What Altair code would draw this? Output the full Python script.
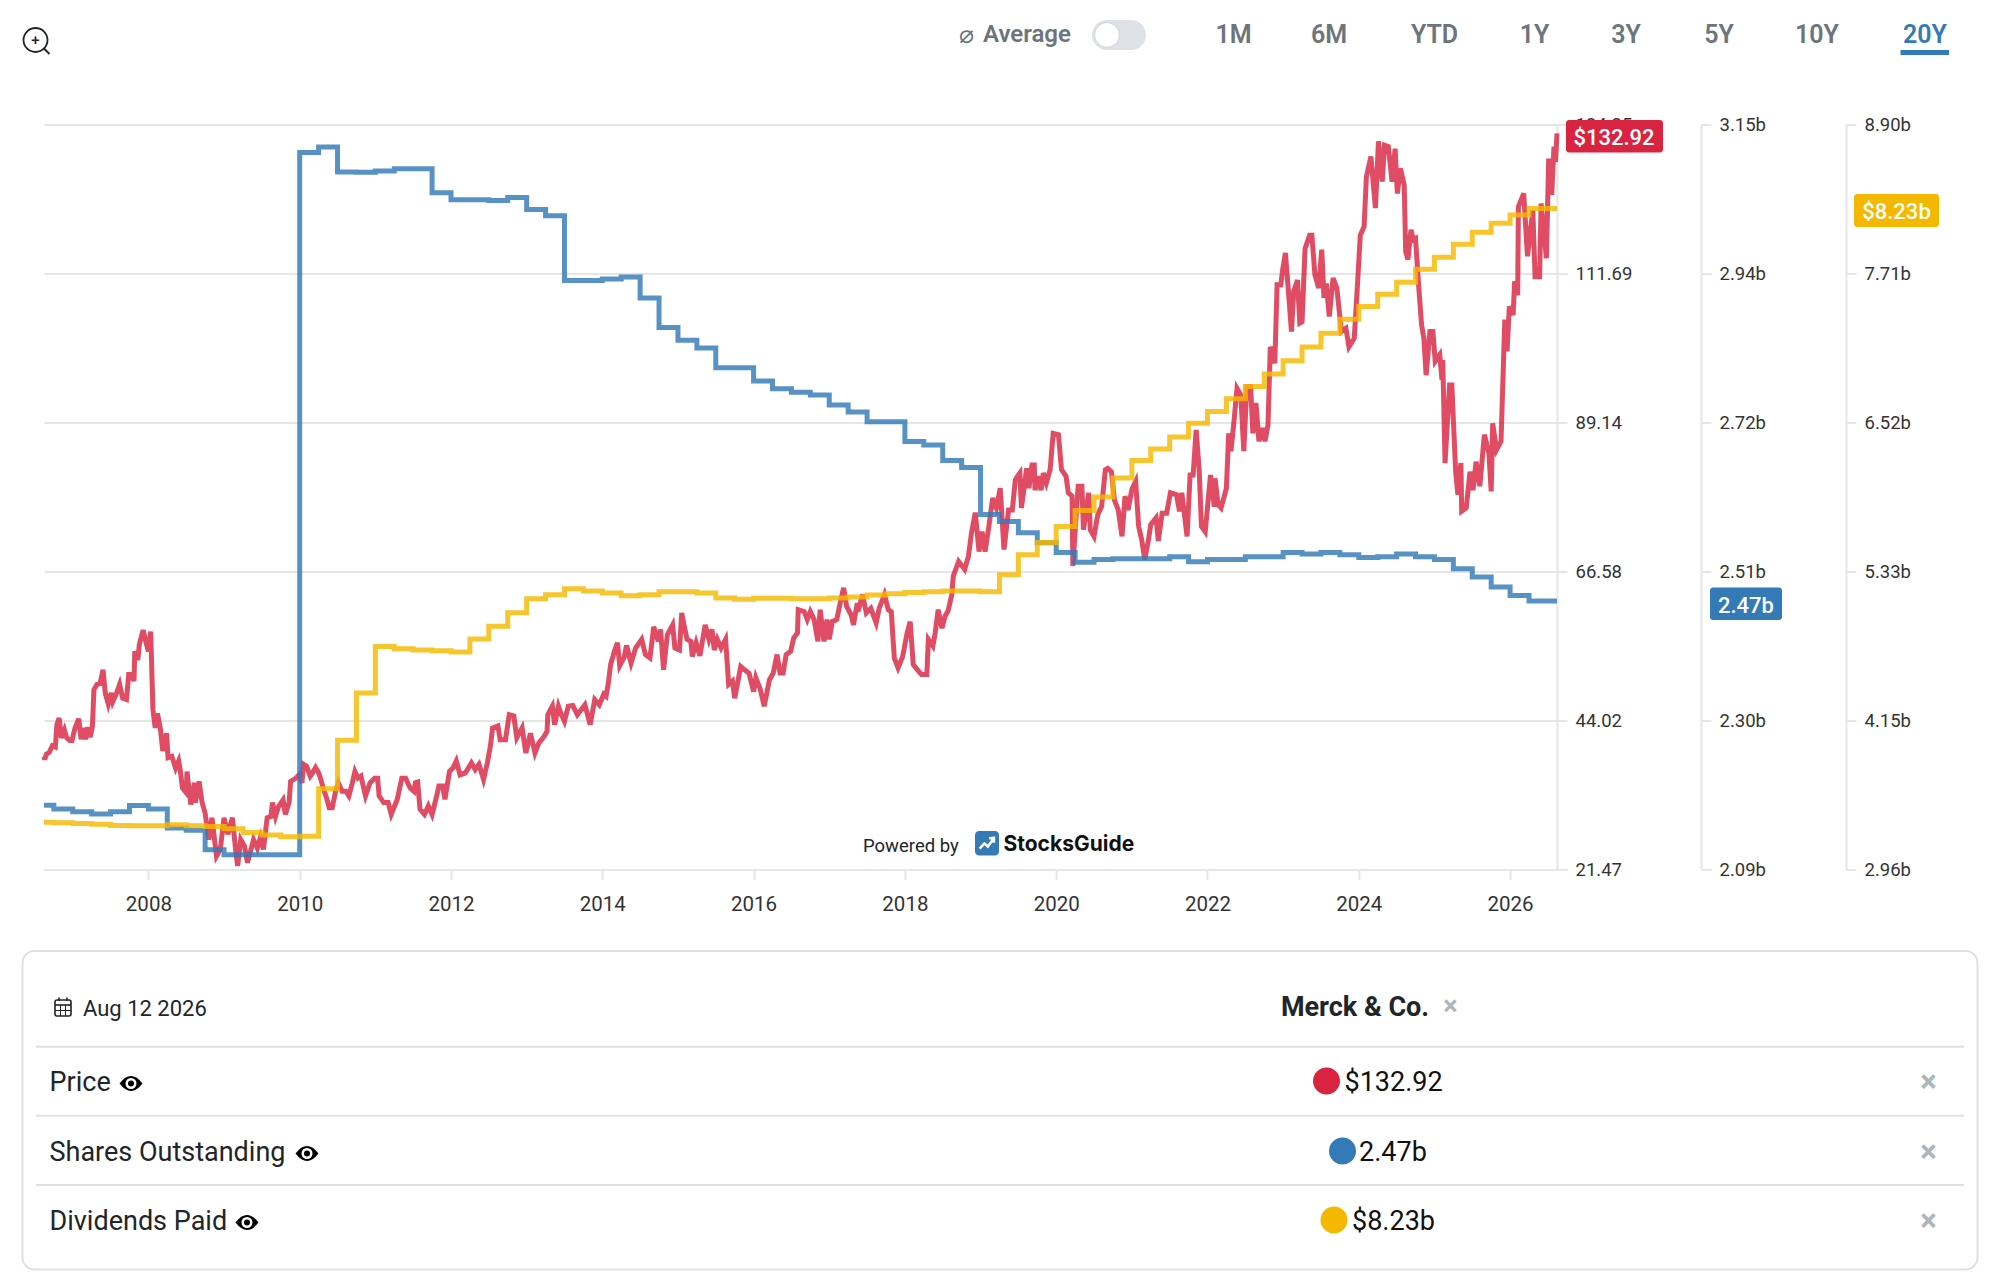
import altair as alt
import pandas as pd

# ---------- data ----------
price_years = [
 2006.62,2006.63,2006.65,2006.69,2006.73,2006.77,2006.79,2006.82,2006.85,2006.89,2006.92,2006.96,2006.99,2007.03,2007.08,2007.11,2007.14,2007.17,2007.20,2007.23,2007.26,2007.28,2007.32,2007.36,2007.40,2007.43,2007.47,2007.51,2007.53,2007.58,2007.62,2007.66,2007.71,2007.74,2007.77,2007.81,2007.82,2007.86,2007.88,2007.93,2007.97,2008.00,2008.03,2008.06,2008.09,2008.12,2008.16,2008.19,2008.24,2008.26,2008.31,2008.36,2008.40,2008.42,2008.45,2008.50,2008.51,2008.56,2008.61,2008.62,2008.67,2008.71,2008.75,2008.80,2008.84,2008.90,2008.95,2009.00,2009.05,2009.11,2009.16,2009.18,2009.22,2009.27,2009.31,2009.39,2009.44,2009.48,2009.52,2009.57,2009.62,2009.64,2009.68,2009.72,2009.78,2009.81,2009.86,2009.88,2009.95,2009.99,2010.03,
 2010.05,2010.09,2010.14,2010.17,2010.21,2010.25,2010.28,2010.31,2010.36,2010.39,2010.43,2010.48,2010.51,2010.56,2010.61,2010.65,2010.69,2010.73,2010.77,2010.81,2010.87,2010.93,2010.99,2011.03,2011.05,2011.11,2011.17,2011.21,2011.29,2011.35,2011.40,2011.46,2011.51,2011.53,2011.56,2011.59,2011.65,2011.70,2011.75,2011.80,2011.84,2011.89,2011.92,2011.98,2012.03,2012.07,2012.12,2012.19,2012.27,2012.32,2012.37,2012.43,2012.48,2012.52,2012.55,2012.62,2012.65,2012.72,2012.77,2012.83,2012.87,2012.94,2012.99,2013.05,2013.11,2013.16,2013.23,2013.27,2013.28,2013.34,2013.37,2013.42,2013.45,2013.50,2013.55,2013.61,2013.67,2013.77,2013.84,2013.90,2013.96,2014.02,
 2014.05,2014.08,2014.11,2014.16,2014.20,2014.23,2014.29,2014.32,2014.38,2014.44,2014.52,2014.57,2014.63,2014.68,2014.74,2014.77,2014.81,2014.86,2014.93,2014.96,2015.02,2015.05,2015.08,2015.12,2015.17,2015.19,2015.24,2015.29,2015.36,2015.41,2015.45,2015.48,2015.52,2015.57,2015.63,2015.67,2015.72,2015.75,2015.83,2015.88,2015.94,2016.00,2016.03,2016.09,2016.14,2016.21,2016.26,2016.31,2016.35,2016.39,2016.43,2016.49,2016.53,2016.58,2016.59,2016.67,2016.71,2016.75,2016.80,2016.85,2016.88,2016.93,2016.97,2017.00,2017.04,2017.10,2017.15,2017.19,2017.23,2017.29,2017.32,2017.37,2017.38,2017.44,2017.49,2017.55,2017.62,2017.66,2017.73,2017.78,2017.82,2017.86,2017.91,2017.97,2018.03,
 2018.07,2018.11,2018.18,2018.22,2018.29,2018.31,2018.37,2018.40,2018.44,2018.49,2018.53,2018.57,2018.62,2018.64,2018.71,2018.79,2018.84,2018.88,2018.93,2018.98,2019.02,2019.06,2019.11,2019.16,2019.21,2019.26,2019.31,2019.37,2019.42,2019.46,2019.52,2019.54,2019.61,2019.64,2019.68,2019.71,2019.72,2019.76,2019.80,2019.83,2019.87,2019.92,2019.96,2020.03,2020.07,2020.13,2020.16,2020.21,2020.22,2020.29,2020.34,2020.36,2020.43,2020.45,2020.50,2020.55,2020.60,2020.65,2020.68,2020.73,2020.77,2020.82,2020.87,2020.91,2020.95,2021.00,2021.05,2021.09,2021.13,2021.17,2021.22,2021.25,2021.32,2021.35,2021.40,2021.46,2021.51,2021.59,2021.63,2021.66,2021.73,2021.77,2021.81,2021.85,2021.89,2021.92,2021.97,2022.04,2022.09,
 2022.10,2022.14,2022.18,2022.25,2022.28,2022.31,2022.35,2022.39,2022.44,2022.48,2022.52,2022.57,2022.60,2022.64,2022.68,2022.73,2022.76,2022.80,2022.83,2022.89,2022.92,2022.97,2022.99,2023.03,2023.07,2023.11,2023.14,2023.19,2023.22,2023.25,2023.29,2023.35,2023.38,2023.42,2023.47,2023.51,2023.54,2023.57,2023.61,2023.66,2023.71,2023.77,2023.83,2023.87,2023.94,2023.98,2024.02,2024.07,2024.10,2024.16,2024.22,2024.26,2024.31,2024.34,2024.39,2024.44,2024.48,2024.51,2024.55,2024.60,2024.62,2024.65,2024.69,2024.72,2024.75,2024.79,2024.83,2024.86,2024.89,2024.94,2024.98,2025.01,2025.07,2025.10,2025.11,2025.14,2025.20,2025.23,2025.28,2025.31,2025.35,2025.36,2025.42,2025.47,2025.51,2025.55,2025.60,2025.66,2025.72,2025.75,2025.77,2025.82,2025.88,2025.93,2025.96,2025.99,2026.04,2026.06,2026.10,2026.11,2026.18,2026.23,2026.30,2026.33,2026.39,2026.41,2026.48,2026.51,2026.55,2026.58,2026.60,2026.62]
price_values = [
 38.6,38.1,38.9,39.2,40.2,40.0,43.4,44.4,41.4,42.6,41.4,41.0,41.0,42.9,44.3,41.2,42.9,41.2,43.0,41.5,43.1,48.7,49.5,49.6,51.7,48.2,46.5,48.2,46.9,48.2,49.5,47.4,47.2,51.0,51.0,50.0,54.5,53.2,55.5,57.7,55.8,54.5,57.5,45.7,42.9,45.1,42.7,39.4,42.1,38.4,38.6,36.8,37.9,36.6,33.8,33.1,36.3,31.3,34.6,31.6,34.8,31.6,30.0,26.0,29.3,23.5,24.5,29.3,26.8,29.3,23.7,22.0,26.0,25.0,22.5,26.0,24.7,26.3,24.5,29.3,29.5,31.6,29.5,31.0,32.0,29.8,31.6,34.8,35.3,35.8,34.6,
 37.4,37.1,35.6,36.1,36.9,36.1,35.1,33.8,32.1,30.8,30.8,33.6,34.6,33.3,33.3,32.6,34.3,36.3,35.3,35.6,32.6,34.6,35.3,35.3,32.6,31.6,31.6,29.8,32.1,35.3,35.3,33.8,33.3,34.6,34.7,30.6,29.8,31.1,29.8,32.1,34.1,34.1,32.1,36.3,36.9,37.9,35.8,36.1,37.6,36.6,37.4,35.1,37.6,40.1,42.9,43.2,41.1,41.1,44.9,44.7,41.4,42.9,39.1,42.1,39.1,40.6,41.6,42.4,44.9,46.2,43.4,46.2,45.2,43.9,46.2,46.3,44.9,46.4,43.4,47.2,46.4,48.0,
 47.7,49.7,52.5,54.5,55.8,52.3,53.6,55.4,52.7,55.0,56.3,54.0,53.5,58.2,56.0,57.8,51.7,57.0,58.5,55.0,54.7,60.3,58.5,56.3,56.0,53.7,55.8,53.8,58.5,56.3,57.8,54.7,56.3,55.0,56.3,49.5,50.0,47.4,52.2,51.7,51.2,48.4,50.5,48.7,46.2,50.2,51.2,54.0,51.2,51.2,54.0,54.5,56.5,57.3,60.8,60.5,59.3,60.5,59.3,56.0,60.8,56.0,59.3,56.3,59.0,59.3,62.1,64.1,61.3,60.0,58.5,61.8,60.5,63.1,60.3,61.0,58.8,61.0,63.1,60.8,60.5,53.5,52.0,53.7,57.3,
 59.0,52.5,51.5,51.0,51.0,56.3,55.3,57.3,60.8,58.0,59.8,60.6,63.1,65.9,68.1,66.9,68.9,72.4,75.5,69.6,72.6,69.6,73.4,77.7,76.2,79.2,69.9,75.9,75.9,80.5,81.5,76.2,82.2,79.2,82.7,82.7,78.9,81.0,78.9,81.5,80.0,82.0,87.5,87.3,82.0,81.0,78.5,78.0,67.4,79.5,79.5,72.9,78.5,72.9,71.9,75.2,76.4,82.0,82.2,81.7,77.4,75.9,71.9,78.0,75.9,79.0,80.2,73.4,71.4,68.4,71.4,73.7,74.7,71.2,75.4,75.4,78.5,78.2,75.7,78.5,71.9,81.2,81.2,88.0,82.0,73.4,72.6,81.2,76.4,
 80.7,76.7,76.2,79.2,87.5,84.8,89.3,94.3,93.3,84.8,94.6,94.6,87.5,92.1,86.3,88.3,86.3,88.8,100.6,98.1,110.0,110.0,112.0,114.8,109.0,102.9,109.0,110.7,104.2,104.4,115.5,117.5,117.5,111.5,109.5,115.3,108.0,110.2,105.2,111.0,109.5,102.9,103.4,100.6,101.9,109.5,117.5,118.8,126.3,129.4,121.6,131.7,125.6,131.1,130.9,125.6,130.6,123.8,127.6,125.1,115.0,113.8,118.3,116.8,117.0,110.0,103.9,101.9,96.3,102.9,102.9,98.4,99.4,95.6,98.6,83.0,94.8,94.8,81.7,78.2,83.0,75.7,76.2,81.7,78.9,83.2,79.5,87.3,84.5,78.7,89.0,85.0,86.3,104.7,99.9,106.7,105.4,110.5,108.4,121.8,123.8,114.3,121.3,111.2,111.2,122.3,114.0,129.1,123.6,130.9,128.6,132.92]

share_years = [2006.62,2006.75,2007.0,2007.25,2007.5,2007.75,2008.0,2008.25,2008.5,2008.75,2009.0,2009.25,2009.5,2009.75,
 2010.0,2010.25,2010.5,2010.75,2011.0,2011.25,2011.5,2011.75,2012.0,2012.25,2012.5,2012.75,2013.0,2013.25,2013.5,2013.75,
 2014.0,2014.25,2014.5,2014.75,2015.0,2015.25,2015.5,2015.75,2016.0,2016.25,2016.5,2016.75,2017.0,2017.25,2017.5,2017.75,
 2018.0,2018.25,2018.5,2018.75,2019.0,2019.25,2019.5,2019.75,2020.0,2020.25,2020.5,2020.75,2021.0,2021.25,2021.5,2021.75,
 2022.0,2022.25,2022.5,2022.75,2023.0,2023.25,2023.5,2023.75,2024.0,2024.25,2024.5,2024.75,2025.0,2025.25,2025.5,2025.75,
 2026.0,2026.25,2026.62]
share_values = [2.1815,2.176,2.172,2.169,2.172,2.181,2.176,2.149,2.146,2.118,2.111,2.111,2.111,2.111,
 3.110,3.118,3.0825,3.082,3.084,3.087,3.087,3.053,3.043,3.043,3.042,3.046,3.029,3.020,2.928,2.928,
 2.930,2.933,2.903,2.861,2.843,2.832,2.804,2.804,2.785,2.774,2.769,2.765,2.751,2.741,2.727,2.727,
 2.699,2.694,2.672,2.662,2.595,2.585,2.569,2.555,2.541,2.527,2.531,2.532,2.532,2.532,2.535,2.528,
 2.531,2.531,2.535,2.535,2.541,2.539,2.541,2.538,2.534,2.535,2.539,2.535,2.531,2.518,2.506,2.492,
 2.480,2.472,2.472]

div_years = share_years
div_values = [3.337,3.332,3.327,3.321,3.311,3.308,3.308,3.316,3.308,3.303,3.284,3.255,3.236,3.221,
 3.225,3.603,3.990,4.368,4.739,4.721,4.710,4.705,4.695,4.798,4.899,5.008,5.119,5.151,5.199,5.181,
 5.165,5.143,5.151,5.175,5.175,5.165,5.125,5.114,5.122,5.122,5.119,5.119,5.125,5.133,5.149,5.159,
 5.169,5.175,5.181,5.181,5.175,5.311,5.470,5.568,5.695,5.823,5.930,6.081,6.221,6.312,6.408,6.519,
 6.612,6.713,6.811,6.910,7.016,7.125,7.236,7.348,7.448,7.547,7.643,7.746,7.842,7.945,8.041,8.113,
 8.179,8.230,8.230]

year_ticks = [2008,2010,2012,2014,2016,2018,2020,2022,2024,2026]
price_ticks = [21.47,44.02,66.58,89.14,111.69,134.25]
share_ticks = [2.09,2.302,2.514,2.726,2.938,3.15]
share_labels = ["2.09b","2.30b","2.51b","2.72b","2.94b","3.15b"]
div_ticks = [2.96,4.148,5.336,6.524,7.712,8.90]
div_labels = ["2.96b","4.15b","5.33b","6.52b","7.71b","8.90b"]
ranges = ["1M","6M","YTD","1Y","3Y","5Y","10Y","20Y"]
rows = ["Price","Shares Outstanding","Dividends Paid"]
row_values = ["$132.92","2.47b","$8.23b"]
RED, BLUE, YELLOW = "#D92441", "#337AB7", "#F5B800"
GRID = "#E6E6E6"
FONT = "Roboto"

# ---------- layout ----------
PX0, PY0 = 44, 124.5           # page position of the plot origin
W, H = 1513, 745
one = alt.Data(values=[{}])

def X(px): return alt.value(px - PX0)
def Y(py): return alt.value(py - PY0)

def txt(px, py, s, size, color, weight=400, align="left", font=FONT):
    return alt.Chart(one).mark_text(text=s, fontSize=size, color=color, fontWeight=weight,
                                    align=align, baseline="middle", font=font).encode(x=X(px), y=Y(py))

def box(x0, y0, x1, y1, fill, radius=0, stroke=None, sw=0):
    kw = dict(fill=fill, cornerRadius=radius)
    if stroke:
        kw.update(stroke=stroke, strokeWidth=sw)
    return alt.Chart(one).mark_rect(**kw).encode(x=X(x0), x2=X(x1), y=Y(y0), y2=Y(y1))

def hline(x0, x1, y, color, sw=2):
    return alt.Chart(one).mark_rule(color=color, strokeWidth=sw).encode(x=X(x0), x2=X(x1), y=Y(y))

def vline(x, y0, y1, color, sw=2):
    return alt.Chart(one).mark_rule(color=color, strokeWidth=sw).encode(x=X(x), y=Y(y0), y2=Y(y1))

def dot(px, py, diam, fill, stroke=None, sw=0, shape="circle", filled=True):
    kw = dict(shape=shape, size=diam * diam, filled=filled, opacity=1)
    if filled:
        kw.update(fill=fill)
    if stroke:
        kw.update(stroke=stroke, strokeWidth=sw)
    return alt.Chart(one).mark_point(**kw).encode(x=X(px), y=Y(py))

# ---------- series ----------
xs = alt.Scale(domain=[2006.62, 2026.62], nice=False, zero=False)
xaxis = alt.Axis(values=year_ticks, format="d", title=None, grid=False, domainColor=GRID, domainWidth=2,
                 tickColor=GRID, tickWidth=2, tickSize=10, labelFontSize=20.5, labelColor="#333333",
                 labelFont=FONT, labelPadding=15)

def series(years, vals, color, ticks, offset, grid, expr, width=5, op=0.82, interp="linear"):
    df = pd.DataFrame({"year": years, "v": vals})
    a = alt.Axis(orient="right", values=ticks, offset=offset, grid=grid, gridColor=GRID, gridWidth=2,
                 labelExpr=expr, domainColor=GRID, domainWidth=2, tickColor=GRID, tickWidth=2,
                 tickSize=10, labelFontSize=18.5, labelColor="#333333", labelFont=FONT, labelPadding=8,
                 labelOffset=0.3, title=None, labelOverlap=False, labelBound=False)
    return alt.Chart(df).mark_line(color=color, strokeWidth=width, opacity=op, interpolate=interp).encode(
        x=alt.X("year:Q", scale=xs, axis=xaxis),
        y=alt.Y("v:Q", scale=alt.Scale(domain=[ticks[0], ticks[-1]], nice=False, zero=False), axis=a))

def lookup(labels):
    return "[" + ",".join("'%s'" % s for s in labels) + "][round(datum.index*5)]"

price = series(price_years, price_values, RED, price_ticks, 0, True, "format(datum.value,'.2f')")
shares = series(share_years, share_values, BLUE, share_ticks, 144, False, lookup(share_labels), interp="step-after")
divs = series(div_years, div_values, YELLOW, div_ticks, 289, False, lookup(div_labels), interp="step-after")

# ---------- chrome ----------
chrome = []
# badges
chrome += [box(1566, 120, 1663, 152.5, RED, 3), txt(1614, 138, row_values[0], 22, "white", 500, "center"),
           box(1710, 587.5, 1782, 620, BLUE, 3), txt(1746, 605.5, row_values[1], 22, "white", 500, "center"),
           box(1854, 194, 1939, 227, YELLOW, 3), txt(1896.5, 212, row_values[2], 22, "white", 500, "center")]
# zoom icon
chrome += [dot(35.5, 40, 24, None, "#212529", 1.8, filled=False), txt(35.5, 40, "+", 15, "#212529", 500, "center"),
           alt.Chart(one).mark_point(shape="M-1,-1 L1,1", size=36, stroke="#212529", strokeWidth=2, filled=False, opacity=1).encode(x=X(46.5), y=Y(51))]
# top controls
tab_x = [1233.5, 1329, 1434.5, 1534.5, 1626, 1719, 1817, 1925]
for s, x in zip(ranges, tab_x):
    chrome.append(txt(x, 34.5, s, 25, BLUE if s == "20Y" else "#6C757D", 600, "center"))
chrome += [box(1900.5, 50, 1949, 55, BLUE),
           txt(959, 35, "⌀", 25, "#6C757D", 400, "left", "DejaVu Sans"),
           txt(983, 34.5, "Average", 24, "#6C757D", 600),
           box(1092, 20, 1146, 50, "#DEE2E6", 15),
           dot(1107, 35, 25, "white", "#CED4DA", 1)]
# powered by
chrome += [txt(863, 845.5, "Powered by", 18.5, "#212529"),
           box(975, 831, 999, 855.5, BLUE, 4),
           alt.Chart(one).mark_point(shape="M-0.85,0.6 L-0.3,0 L0.1,0.35 L0.75,-0.55 M0.25,-0.6 L0.8,-0.65 L0.8,-0.1",
                                     size=300, stroke="white", strokeWidth=2.5, filled=False, opacity=1).encode(x=X(987), y=Y(843.5)),
           txt(1003.5, 845, "StocksGuide", 21, "#111111", 700, "left", "Inter")]
# card
chrome += [box(22.5, 951, 1977.5, 1269.5, "white", 12, "#DEE2E6", 2)]
for y in (1046.7, 1115.7, 1185):
    chrome.append(hline(36, 1964, y, "#DEE2E6"))
# calendar icon
chrome += [box(55, 1000, 71, 1016, "white", 2, "#212529", 1.6),
           hline(55, 71, 1005, "#212529", 1.6), hline(55, 71, 1010.5, "#212529", 1),
           vline(60.5, 1005, 1016, "#212529", 1), vline(65.5, 1005, 1016, "#212529", 1),
           vline(59, 997.5, 1001, "#212529", 1.6), vline(67, 997.5, 1001, "#212529", 1.6),
           txt(83, 1008.5, "Aug 12 2026", 22, "#212529"),
           txt(1355, 1008, "Merck & Co.", 27, "#212529", 700, "center"),
           txt(1450.5, 1007, "×", 27, "#ADB5BD", 700, "center")]
eye = "M-1,0 Q0,-1.3 1,0 Q0,1.3 -1,0 Z"
row_y = [1082, 1152, 1221]
eye_x = [131, 307, 247]
dot_x = [1326.5, 1342.5, 1334]
val_x = [1344.5, 1359, 1352]
dot_c = [RED, BLUE, YELLOW]
for i in range(3):
    y = row_y[i]
    chrome += [txt(49.5, y + 1, rows[i], 27, "#212529"),
               dot(eye_x[i], y + 1.5, 23, "black", shape=eye),
               dot(eye_x[i], y + 1.5, 11, "white"),
               dot(eye_x[i], y + 1.5, 6, "black"),
               dot(dot_x[i], y - 1, 27, dot_c[i]),
               txt(val_x[i], y + 0.5, row_values[i], 27, "#111111"),
               txt(1928.5, y + 1, "×", 31, "#ADB5BD", 700, "center")]

chart = alt.layer(price, shares, divs, *chrome).resolve_scale(y="independent").properties(
    width=W, height=H,
    autosize=alt.AutoSizeParams(type="none"),
    padding={"left": 36, "top": 116.5, "right": 1976 - 36 - W, "bottom": 1270 - 116.5 - H},
    background="white",
).configure_view(stroke=None)

chart.save("out.html", embed_options={"renderer": "svg", "actions": False})
